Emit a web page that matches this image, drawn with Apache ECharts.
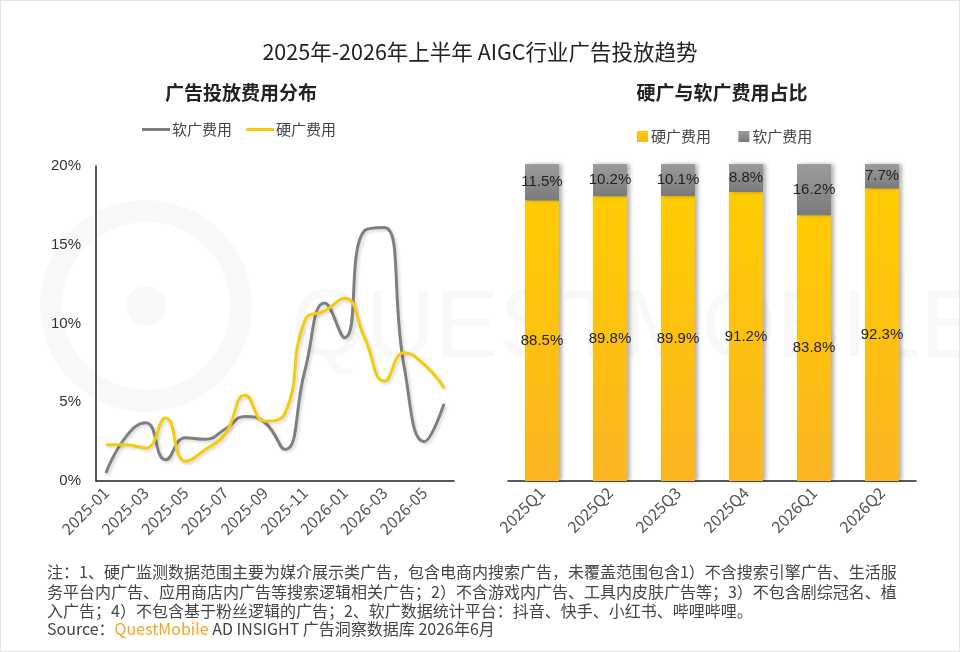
<!DOCTYPE html>
<html><head><meta charset="utf-8">
<script src="https://cdn.jsdelivr.net/npm/echarts@6/dist/echarts.min.js"></script>
<style>html,body{margin:0;padding:0;background:#fff;}#c{width:958px;height:650px;border:1px solid #e3e3e3;}</style>
</head><body><div id="c"></div>
<script>
var months = ['2025-01','2025-02','2025-03','2025-04','2025-05','2025-06','2025-07','2025-08','2025-09','2025-10','2025-11','2025-12','2026-01','2026-02','2026-03','2026-04','2026-05','2026-06'];
var softMonthly = [0.5, 2.8, 3.7, 1.35, 2.75, 2.65, 3.3, 4.1, 3.7, 2.0, 7.0, 11.3, 9.1, 15.9, 16.1, 7.2, 2.5, 4.9];
var hardMonthly = [2.3, 2.3, 2.1, 4.0, 1.25, 2.0, 3.0, 5.45, 3.8, 4.3, 10.2, 10.8, 11.6, 9.1, 6.35, 8.15, 7.4, 5.9];
var quarters = ['2025Q1','2025Q2','2025Q3','2025Q4','2026Q1','2026Q2'];
var hardShare = [88.5, 89.8, 89.9, 91.2, 83.8, 92.3];
var softShare = [11.5, 10.2, 10.1, 8.8, 16.2, 7.7];
var yTicks = [0, 5, 10, 15, 20];

var FONT = '"Liberation Sans","Noto Sans CJK SC",sans-serif';
var CJK = '"Noto Sans CJK SC","Liberation Sans",sans-serif';
var chart = echarts.init(document.getElementById('c'));
var option = {
  textStyle: {fontFamily: FONT},
  title: [
    {text: '2025年-2026年上半年 AIGC行业广告投放趋势', left: 'center', top: 35, textStyle: {fontFamily: CJK, fontSize: 21.5, fontWeight: 'normal', color: '#222'}},
    {text: '广告投放费用分布', left: 235, textAlign: 'center', top: 77, textStyle: {fontFamily: CJK, fontSize: 19, fontWeight: 'bold', color: '#222'}},
    {text: '硬广与软广费用占比', left: 716, textAlign: 'center', top: 77, textStyle: {fontFamily: CJK, fontSize: 19, fontWeight: 'bold', color: '#222'}}
  ],
  legend: [
    {data: ['软广费用', '硬广费用'], left: 136, top: 116, itemWidth: 28, itemHeight: 10, itemGap: 14,
     textStyle: {fontFamily: CJK, fontSize: 15, color: '#444', padding: [0, 0, 0, -3]}, icon: 'path://M0,3.5 L28,3.5 L28,6.5 L0,6.5 Z'},
    {data: ['硬广费用 ', '软广费用 '], left: 631, top: 123, itemWidth: 11, itemHeight: 11, itemGap: 24, icon: 'rect',
     textStyle: {fontFamily: CJK, fontSize: 15, color: '#444', padding: [0, 0, 0, -2]}}
  ],
  graphic: [
    {type: 'text', left: 290, top: 282, silent: true, z: -10,
     style: {text: 'QUESTMOBILE', fontSize: 96, fontFamily: FONT, fill: 'rgba(0,0,0,0.028)'}},
    {type: 'circle', shape: {cx: 145, cy: 305, r: 95}, silent: true, z: -10,
     style: {fill: 'none', stroke: 'rgba(0,0,0,0.028)', lineWidth: 22}},
    {type: 'circle', shape: {cx: 145, cy: 305, r: 20}, silent: true, z: -10,
     style: {fill: 'rgba(0,0,0,0.028)'}},
    {type: 'text', left: 46, top: 563, style: {text: '注：1、硬广监测数据范围主要为媒介展示类广告，包含电商内搜索广告，未覆盖范围包含1）不含搜索引擎广告、生活服', fontFamily: CJK, fontSize: 16, fill: '#444'}},
    {type: 'text', left: 46, top: 583, style: {text: '务平台内广告、应用商店内广告等搜索逻辑相关广告；2）不含游戏内广告、工具内皮肤广告等；3）不包含剧综冠名、植', fontFamily: CJK, fontSize: 16, fill: '#444'}},
    {type: 'text', left: 46, top: 602, style: {text: '入广告；4）不包含基于粉丝逻辑的广告；2、软广数据统计平台：抖音、快手、小红书、哔哩哔哩。', fontFamily: CJK, fontSize: 16, fill: '#444'}},
    {type: 'text', left: 46, top: 620, style: {text: '{a|Source：}{b|QuestMobile}{a| AD INSIGHT 广告洞察数据库 2026年6月}', fontFamily: CJK, fontSize: 16, fill: '#444',
      rich: {a: {fontFamily: CJK, fontSize: 16, fill: '#444'}, b: {fontFamily: CJK, fontSize: 16, fill: '#F5A623'}}}}
  ],
  grid: [
    {left: 95, top: 165, width: 358, height: 315},
    {left: 507, top: 163, width: 408, height: 317}
  ],
  xAxis: [
    {type: 'category', gridIndex: 0, data: months, boundaryGap: true,
     axisLine: {lineStyle: {color: '#222', width: 1.5}}, axisTick: {show: false},
     axisLabel: {interval: 1, rotate: 45, fontSize: 16, fontFamily: CJK, color: '#555', margin: 9}},
    {type: 'category', gridIndex: 1, data: quarters,
     axisLine: {lineStyle: {color: '#222', width: 1.5}}, axisTick: {show: false},
     axisLabel: {rotate: 45, fontSize: 16, fontFamily: CJK, color: '#555', margin: 9}}
  ],
  yAxis: [
    {type: 'value', gridIndex: 0, min: yTicks[0], max: yTicks[yTicks.length - 1], interval: 5,
     axisLine: {show: true, lineStyle: {color: '#222', width: 1.5}}, axisTick: {show: false}, splitLine: {show: false},
     axisLabel: {formatter: '{value}%', fontSize: 15, color: '#333', margin: 15}},
    {type: 'value', gridIndex: 1, min: 0, max: 100, show: false, splitLine: {show: false}}
  ],
  series: [
    {name: '软广费用', type: 'line', xAxisIndex: 0, yAxisIndex: 0, data: softMonthly, smooth: 0.5, symbol: 'none',
     lineStyle: {color: '#7f7f7f', width: 3, shadowColor: 'rgba(0,0,0,0.15)', shadowBlur: 3, shadowOffsetX: 2, shadowOffsetY: 2},
     itemStyle: {color: '#7f7f7f'}},
    {name: '硬广费用', type: 'line', xAxisIndex: 0, yAxisIndex: 0, data: hardMonthly, smooth: 0.5, symbol: 'none',
     lineStyle: {color: '#F5CB0A', width: 3, shadowColor: 'rgba(0,0,0,0.15)', shadowBlur: 3, shadowOffsetX: 2, shadowOffsetY: 2},
     itemStyle: {color: '#F5CB0A'}},
    {name: '硬广费用 ', type: 'bar', stack: 'share', xAxisIndex: 1, yAxisIndex: 1, data: hardShare, barWidth: 34,
     itemStyle: {color: new echarts.graphic.LinearGradient(0, 0, 0, 1, [{offset: 0, color: '#FFCC00'}, {offset: 1, color: '#FBB522'}]),
       shadowColor: 'rgba(0,0,0,0.3)', shadowBlur: 4, shadowOffsetX: 3},
     label: {show: true, position: 'inside', formatter: '{c}%', fontSize: 15, color: '#222'}},
    {name: '软广费用 ', type: 'bar', stack: 'share', xAxisIndex: 1, yAxisIndex: 1, data: softShare, barWidth: 34,
     itemStyle: {color: new echarts.graphic.LinearGradient(0, 0, 0, 1, [{offset: 0, color: '#9c9c9c'}, {offset: 1, color: '#7a7a7a'}]),
       shadowColor: 'rgba(0,0,0,0.3)', shadowBlur: 4, shadowOffsetX: 3},
     label: {show: true, position: 'inside', formatter: '{c}%', fontSize: 15, color: '#222'}}
  ]
};
chart.setOption(option);
</script></body></html>
